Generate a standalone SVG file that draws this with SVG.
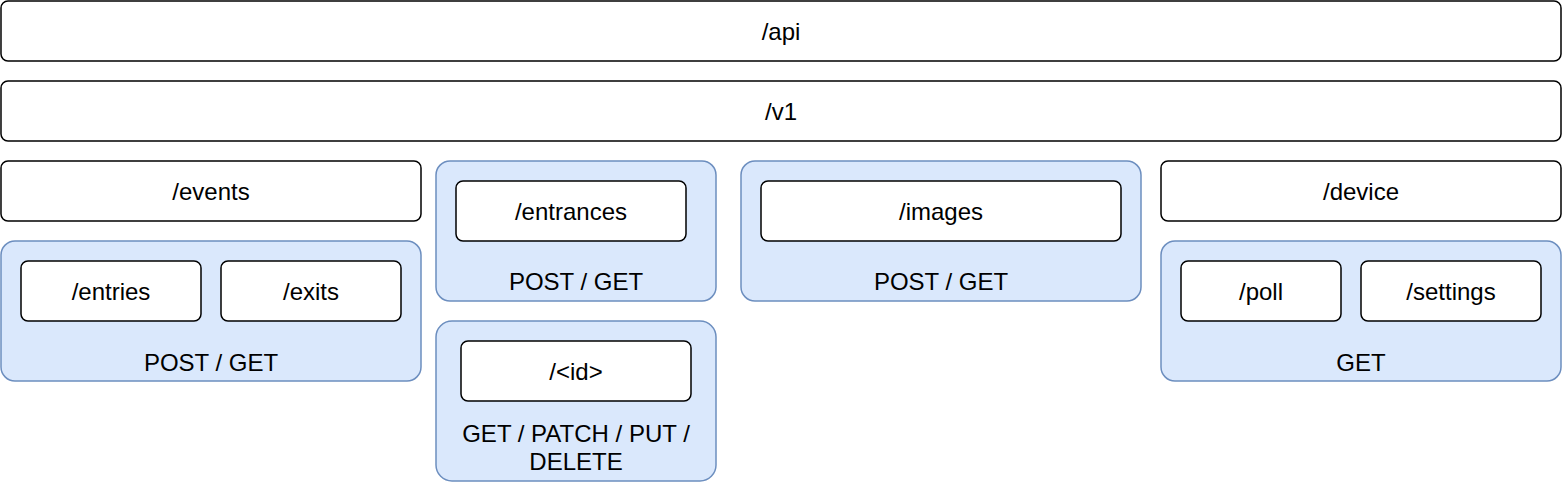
<svg xmlns="http://www.w3.org/2000/svg" width="1562" height="482" viewBox="0 0 1562 482">
<style>
.w{fill:#ffffff;stroke:#000000;stroke-width:1.5}
.c{fill:#dae8fc;stroke:#6c8ebf;stroke-width:1.5}
text{font-family:"Liberation Sans",Arial,Helvetica,sans-serif;font-size:24px;fill:#000000;text-anchor:middle}
</style>
<rect width="1562" height="482" fill="#ffffff"/>
<g id="api"><rect class="w" x="1" y="1" width="1560" height="60" rx="7"/><text x="781" y="40">/api</text></g>
<g id="v1"><rect class="w" x="1" y="81" width="1560" height="60" rx="7"/><text x="781" y="120">/v1</text></g>
<g id="events"><rect class="w" x="1" y="161" width="420" height="60" rx="7"/><text x="211" y="200">/events</text></g>
<g id="events-group"><rect class="c" x="1" y="241" width="420" height="140" rx="14"/><text x="211" y="371">POST / GET</text></g>
<g id="entries"><rect class="w" x="21" y="261" width="180" height="60" rx="7"/><text x="111" y="300">/entries</text></g>
<g id="exits"><rect class="w" x="221" y="261" width="180" height="60" rx="7"/><text x="311" y="300">/exits</text></g>
<g id="entrances-group"><rect class="c" x="436" y="161" width="280" height="140" rx="14"/><text x="576" y="290">POST / GET</text></g>
<g id="entrances"><rect class="w" x="456" y="181" width="230" height="60" rx="7"/><text x="571" y="220">/entrances</text></g>
<g id="id-group"><rect class="c" x="436" y="321" width="280" height="160" rx="16"/><text x="576" y="442">GET / PATCH / PUT /</text><text x="576" y="470">DELETE</text></g>
<g id="id"><rect class="w" x="461" y="341" width="230" height="60" rx="7"/><text x="576" y="380">/&lt;id&gt;</text></g>
<g id="images-group"><rect class="c" x="741" y="161" width="400" height="140" rx="14"/><text x="941" y="290">POST / GET</text></g>
<g id="images"><rect class="w" x="761" y="181" width="360" height="60" rx="7"/><text x="941" y="220">/images</text></g>
<g id="device"><rect class="w" x="1161" y="161" width="400" height="60" rx="7"/><text x="1361" y="200">/device</text></g>
<g id="device-group"><rect class="c" x="1161" y="241" width="400" height="140" rx="14"/><text x="1361" y="371">GET</text></g>
<g id="poll"><rect class="w" x="1181" y="261" width="160" height="60" rx="7"/><text x="1261" y="300">/poll</text></g>
<g id="settings"><rect class="w" x="1361" y="261" width="180" height="60" rx="7"/><text x="1451" y="300">/settings</text></g>
<g id="connectors"></g>
</svg>
